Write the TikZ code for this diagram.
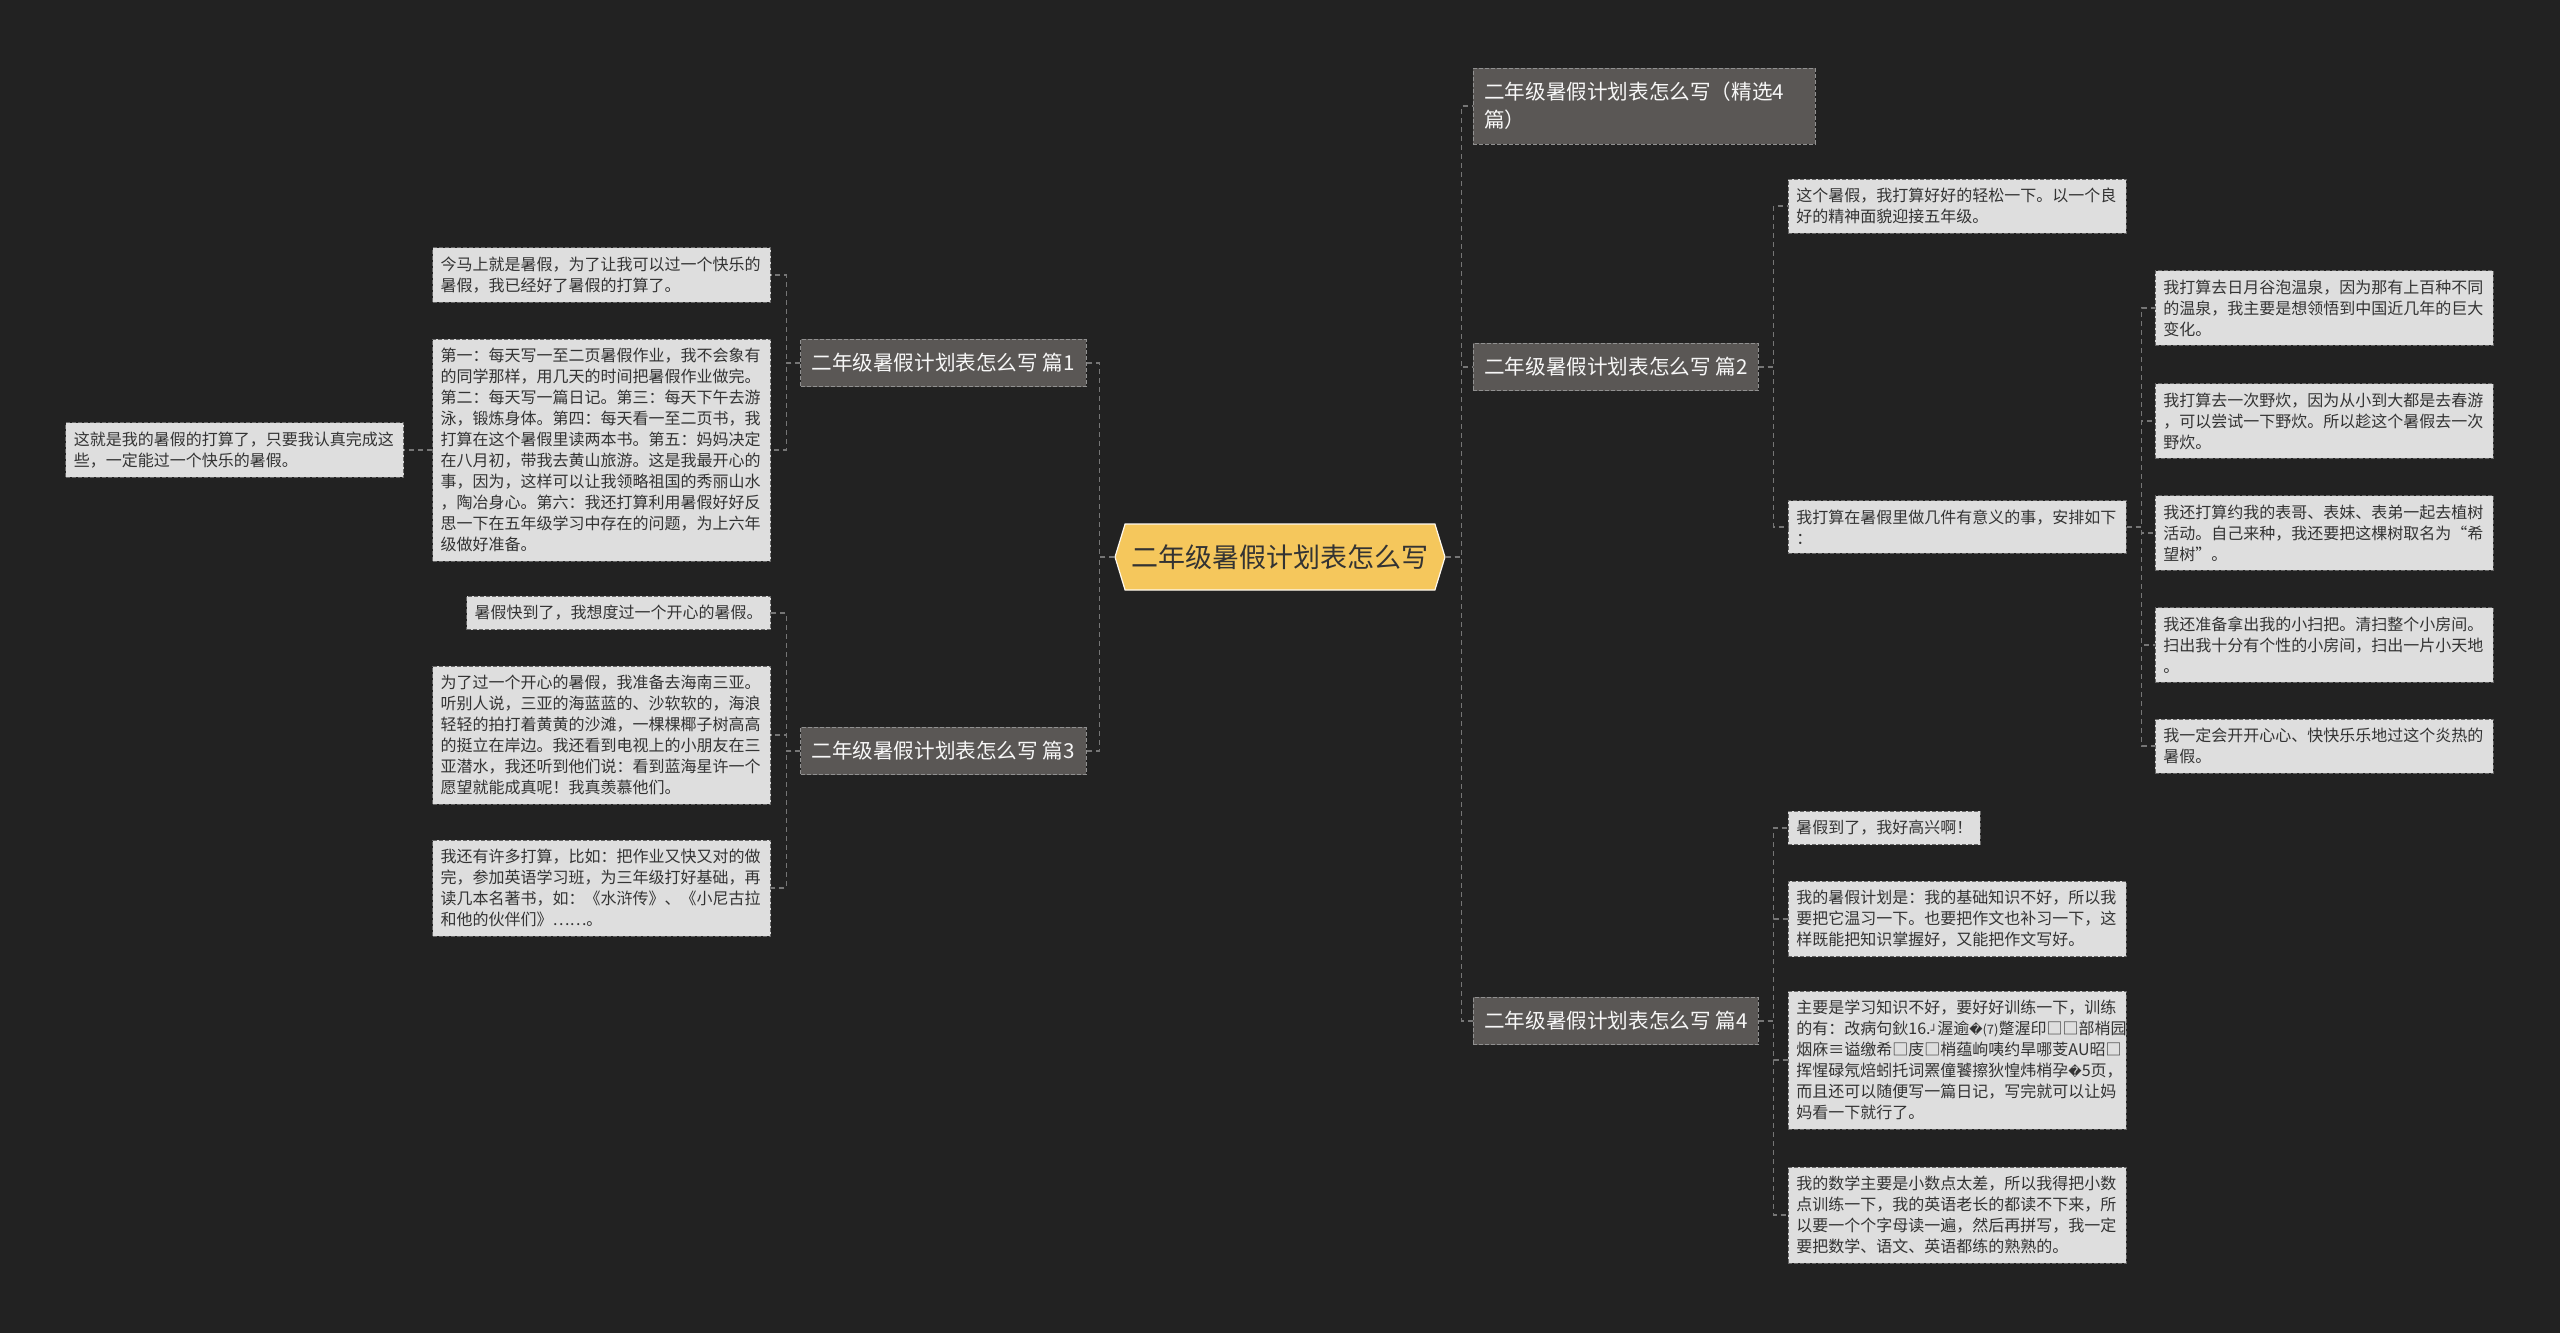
\documentclass[tikz,border=0pt]{standalone}
\usepackage{fontspec}
\setmainfont{Noto Sans CJK SC}
\newfontfamily\symfont{DejaVu Sans}
\usepackage{xcolor}
\usetikzlibrary{positioning,shapes.symbols}
\definecolor{mapBg}{HTML}{222222}
\definecolor{mapRoot}{HTML}{F5C75C}
\definecolor{mapTopic}{HTML}{5A5755}
\definecolor{mapLeaf}{HTML}{DEDEDE}
\definecolor{mapInk}{HTML}{333333}
\definecolor{mapLine}{HTML}{767676}
\tikzset{
  root/.style={
    signal,
    signal to=west and east,
    signal pointer angle=146,
    draw=white!90!mapRoot,
    line width=1.2pt,
    fill=mapRoot,
    text=mapInk,
    minimum width=330pt,
    minimum height=66pt,
    inner sep=0pt,
    font=\fontsize{27}{32}\selectfont
  },
  topic/.style={
    draw=mapLine!80!white,
    dashed,
    dash pattern=on 4pt off 2pt,
    fill=mapTopic,
    text=white!95!mapTopic,
    align=left,
    inner xsep=11pt,
    inner ysep=14pt,
    font=\fontsize{20.6}{28}\selectfont
  },
  leaf/.style={
    draw=mapInk!75,
    dash pattern=on 4pt off 2pt,
    line width=0.8pt,
    fill=mapLeaf,
    text=mapInk,
    align=left,
    inner xsep=8pt,
    inner ysep=9pt,
    font=\fontsize{16}{21}\selectfont
  },
  wide/.style={leaf, text width=322pt},
  link/.style={draw=mapLine, line width=1.3pt, dash pattern=on 5pt off 4pt}
}

\begin{document}
\begin{tikzpicture}[x=1pt,y=-1pt]
  \fill[mapBg] (0,0) rectangle (2560,1333);

  \node[root] (root) at (1280,557) {二年级暑假计划表怎么写};

  \node[topic, anchor=east] (p1) at (1086,363) {二年级暑假计划表怎么写 篇1};
  \node[topic, anchor=east] (p3) at (1086,751) {二年级暑假计划表怎么写 篇3};
  \node[topic, anchor=west, text width=320pt] (t0) at (1473,106) {二年级暑假计划表怎么写（精选4\\篇）};
  \node[topic, anchor=west] (p2) at (1473,367) {二年级暑假计划表怎么写 篇2};
  \node[topic, anchor=west] (p4) at (1473,1021) {二年级暑假计划表怎么写 篇4};

  \node[wide, anchor=east] (c1a) at (771,275) {今马上就是暑假，为了让我可以过一个快乐的\\暑假，我已经好了暑假的打算了。};
  \node[wide, anchor=east] (c1b) at (771,450) {第一：每天写一至二页暑假作业，我不会象有\\的同学那样，用几天的时间把暑假作业做完。\\第二：每天写一篇日记。第三：每天下午去游\\泳，锻炼身体。第四：每天看一至二页书，我\\打算在这个暑假里读两本书。第五：妈妈决定\\在八月初，带我去黄山旅游。这是我最开心的\\事，因为，这样可以让我领略祖国的秀丽山水\\，陶冶身心。第六：我还打算利用暑假好好反\\思一下在五年级学习中存在的问题，为上六年\\级做好准备。};
  \node[wide, left=28pt of c1b] (gc) {这就是我的暑假的打算了，只要我认真完成这\\些，一定能过一个快乐的暑假。};

  \node[leaf, anchor=east] (c3a) at (771,613) {暑假快到了，我想度过一个开心的暑假。};
  \node[wide, anchor=east] (c3b) at (771,735) {为了过一个开心的暑假，我准备去海南三亚。\\听别人说，三亚的海蓝蓝的、沙软软的，海浪\\轻轻的拍打着黄黄的沙滩，一棵棵椰子树高高\\的挺立在岸边。我还看到电视上的小朋友在三\\亚潜水，我还听到他们说：看到蓝海星许一个\\愿望就能成真呢！我真羡慕他们。};
  \node[wide, anchor=east] (c3c) at (771,888) {我还有许多打算，比如：把作业又快又对的做\\完，参加英语学习班，为三年级打好基础，再\\读几本名著书，如：《水浒传》、《小尼古拉\\和他的伙伴们》……。};

  \node[wide, anchor=west] (c2a) at (1788,206) {这个暑假，我打算好好的轻松一下。以一个良\\好的精神面貌迎接五年级。};
  \node[wide, anchor=west] (c2b) at (1788,527) {我打算在暑假里做几件有意义的事，安排如下\\：};

  \node[wide, anchor=west] (g1) at (2155,308) {我打算去日月谷泡温泉，因为那有上百种不同\\的温泉，我主要是想领悟到中国近几年的巨大\\变化。};
  \node[wide, anchor=west] (g2) at (2155,421) {我打算去一次野炊，因为从小到大都是去春游\\，可以尝试一下野炊。所以趁这个暑假去一次\\野炊。};
  \node[wide, anchor=west] (g3) at (2155,533) {我还打算约我的表哥、表妹、表弟一起去植树\\活动。自己来种，我还要把这棵树取名为“希\\望树”。};
  \node[wide, anchor=west] (g4) at (2155,645) {我还准备拿出我的小扫把。清扫整个小房间。\\扫出我十分有个性的小房间，扫出一片小天地\\。};
  \node[wide, anchor=west] (g5) at (2155,746) {我一定会开开心心、快快乐乐地过这个炎热的\\暑假。};

  \node[leaf, anchor=west] (d1) at (1788,828) {暑假到了，我好高兴啊！};
  \node[wide, anchor=west] (d2) at (1788,919) {我的暑假计划是：我的基础知识不好，所以我\\要把它温习一下。也要把作文也补习一下，这\\样既能把知识掌握好，又能把作文写好。};
  \node[wide, anchor=west] (d3) at (1788,1060) {主要是学习知识不好，要好好训练一下，训练\\的有：改病句鈥16.{\symfont\fontsize{11}{21}\selectfont ┘}渥逾{\symfont\fontsize{13}{21}\selectfont �}{\fontsize{13}{21}\selectfont (7)}蹩渥印□□部梢园\\烟庥≡谥缴希□庋□梢蕴岣咦约旱哪芰ΑU昭□\\挥惺碌氖焙蚓托词罴僮饕擦狄惶炜梢孕{\symfont\fontsize{13}{21}\selectfont �}5页，\\而且还可以随便写一篇日记，写完就可以让妈\\妈看一下就行了。};
  \node[wide, anchor=west] (d4) at (1788,1215) {我的数学主要是小数点太差，所以我得把小数\\点训练一下，我的英语老长的都读不下来，所\\以要一个个字母读一遍，然后再拼写，我一定\\要把数学、语文、英语都练的熟熟的。};

  \foreach \t in {p1,p3}
    \draw[link] (root.west) -- ++(-15,0) |- (\t.east);
  \foreach \t in {t0,p2,p4}
    \draw[link] (root.east) -- ++(16,0) |- (\t.west);
  \foreach \c in {c1a,c1b}
    \draw[link] (p1.west) -- ++(-14,0) |- (\c.east);
  \draw[link] (c1b.west) -- (gc.east);
  \foreach \c in {c3a,c3b,c3c}
    \draw[link] (p3.west) -- ++(-14,0) |- (\c.east);
  \foreach \c in {c2a,c2b}
    \draw[link] (p2.east) -- ++(15,0) |- (\c.west);
  \foreach \g in {g1,g2,g3,g4,g5}
    \draw[link] (c2b.east) -- ++(15,0) |- (\g.west);
  \foreach \d in {d1,d2,d3,d4}
    \draw[link] (p4.east) -- ++(15,0) |- (\d.west);
\end{tikzpicture}
\end{document}
